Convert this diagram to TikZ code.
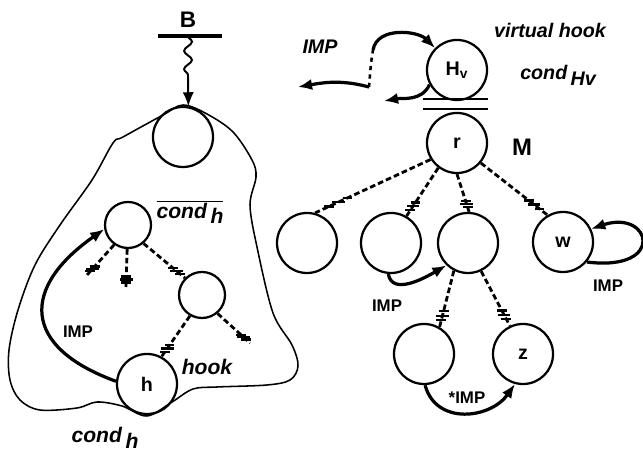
\documentclass[tikz,border=0pt]{standalone}
\usepackage{fontspec}
\setmainfont{Liberation Sans}
\usetikzlibrary{arrows.meta,decorations.pathmorphing,decorations.markings}

% short horizontal stroke used to hatch the end of a branch
\newcommand{\hatchtick}[1]{\pgftransformresetnontranslations
  \draw[solid,line width=1.6pt] (-#1,0) -- (#1,0);}

\tikzset{
  state/.style={circle, draw, line width=1.6pt, minimum size=1.5cm, inner sep=0pt,
    font=\bfseries\fontsize{14}{16}\selectfont},
  substate/.style={state, minimum size=1.15cm},
  branch/.style={line width=2pt, dash pattern=on 4pt off 2.2pt,
    postaction={decorate, decoration={markings,
      mark=at position 0.72 with {\hatchtick{3.5pt}},
      mark=at position 0.80 with {\hatchtick{4.5pt}},
      mark=at position 0.88 with {\hatchtick{3.5pt}}}}},
  imp/.style={line width=2.3pt, -{Latex[length=10pt,width=8pt]}},
  lbl/.style={font=\bfseries\itshape\fontsize{14}{16}\selectfont},
  implbl/.style={font=\bfseries\fontsize{12}{14}\selectfont},
}

\begin{document}
\begin{tikzpicture}[x=0.025cm, y=0.025cm]
    \useasboundingbox (0,0) rectangle (643,451);

    % left part: the region around the hook
    \node[state] (entry) at (183,314) {};
    \node[substate] (a) at (128,226) {};
    \node[substate] (b) at (202,156) {};
    \node[state] (h) at (147,67) {h};
    \coordinate (a1) at (87,176);
    \coordinate (a2) at (126,164);
    \coordinate (b1) at (250,108);

    \draw[line width=1.1pt] plot[smooth cycle, tension=0.55] coordinates {
        (163,336) (123,314) (113,308) (92,271) (60,226) (35,186) (18,141)
        (9,101) (10,71) (20,51) (40,41) (77,43) (97,49) (122,45) (147,35)
        (172,49) (193,62) (217,64) (267,66) (290,71) (298,85) (292,106)
        (273,138) (257,204) (250,246) (256,274) (252,291) (233,319)
        (207,337) (183,346)};

    % B enters from above
    \draw[line width=2.4pt] (158,415) -- (222,415);
    \node[font=\bfseries\fontsize{16}{18}\selectfont] (Blbl) at (188,431) {B};
    \coordinate (Btop) at (188,415);
    \coordinate (Bmid) at (188,375);
    \draw[line width=1.4pt, decorate, decoration={snake, amplitude=2.8pt, segment length=13pt}] (Btop) -- (Bmid);
    \draw[line width=1.4pt, -{Latex[length=10pt,width=8pt]}] (Bmid) -- (entry.80);

    \draw[branch] (a.235) -- (a1);
    \draw[branch] (a.268) -- (a2);
    \draw[branch] (a.-50) -- (b.135);
    \draw[branch] (b.240) -- (h.62);
    \draw[branch] (b.-50) -- (b1);

    \draw[imp] (h.175) to[out=160, in=215, looseness=1.7] (a.190);
    \node[implbl] (implh) at (78,119) {IMP};

    \node[lbl, font=\bfseries\itshape\fontsize{15}{17}\selectfont] (condbar) at (190,239)
        {$\overline{\mbox{cond\,\raisebox{-0.5ex}{h}}}$};
    \node[lbl, font=\bfseries\itshape\fontsize{15}{17}\selectfont] (hooklbl) at (207,84) {hook};
    \node[lbl, font=\bfseries\itshape\fontsize{15}{17}\selectfont] (condh) at (105,13) {cond\,\raisebox{-0.5ex}{h}};

    % right part: the tree M under the virtual hook
    \node[state] (Hv) at (457,381) {H\textsubscript{v}};
    \node[state] (r) at (457,308) {r};
    \node[state] (c1) at (307,208) {};
    \node[state] (c2) at (391,208) {};
    \node[state] (c3) at (468,208) {};
    \node[state] (w) at (563,209) {w};
    \node[state] (d1) at (424,97) {};
    \node[state] (z) at (523,97) {z};

    \draw[line width=1.6pt] (423,352) -- (488,352);
    \draw[line width=1.6pt] (423,342) -- (488,342);

    \draw[branch] (r.212) -- (c1.75);
    \draw[branch] (r.233) -- (c2.60);
    \draw[branch] (r.270) -- (c3.88);
    \draw[branch] (r.-40) -- (w.120);
    \draw[branch] (c3.243) -- (d1.60);
    \draw[branch] (c3.-65) -- (z.115);

    % loop around the virtual hook
    \coordinate (hl) at (384,350);
    \coordinate (hd1) at (369,364);
    \coordinate (hd2) at (373,401);
    \coordinate (he) at (298,364);
    \draw[imp] (Hv.208) to[out=245, in=10] (hl);
    \draw[line width=1.8pt, dashed] (hd1) to[out=85, in=-100] (hd2);
    \draw[imp] (hd2) to[out=80, in=135] (Hv.135);
    \draw[imp] (hd1) to[out=165, in=10] (he);

    \draw[imp] (c2.265) to[out=-80, in=210] (c3.226);
    \draw[imp] (w.-40) .. controls +(80,-10) and +(60,20) .. (w.25);
    \draw[imp] (d1.-88) to[out=-75, in=235, looseness=1.2] (z.255);

    \node[lbl] (impv) at (320,404) {IMP};
    \node[lbl] (virt) at (550,421) {virtual hook};
    \node[lbl] (condHv) at (558,376) {cond\,\raisebox{-0.6ex}{Hv}};
    \node[font=\bfseries\fontsize{17}{19}\selectfont] (Mlbl) at (522,304) {M};
    \node[implbl] (imp2) at (387,145) {IMP};
    \node[implbl] (impw) at (608,165) {IMP};
    \node[implbl] (impz) at (467,53) {*IMP};
\end{tikzpicture}
\end{document}
